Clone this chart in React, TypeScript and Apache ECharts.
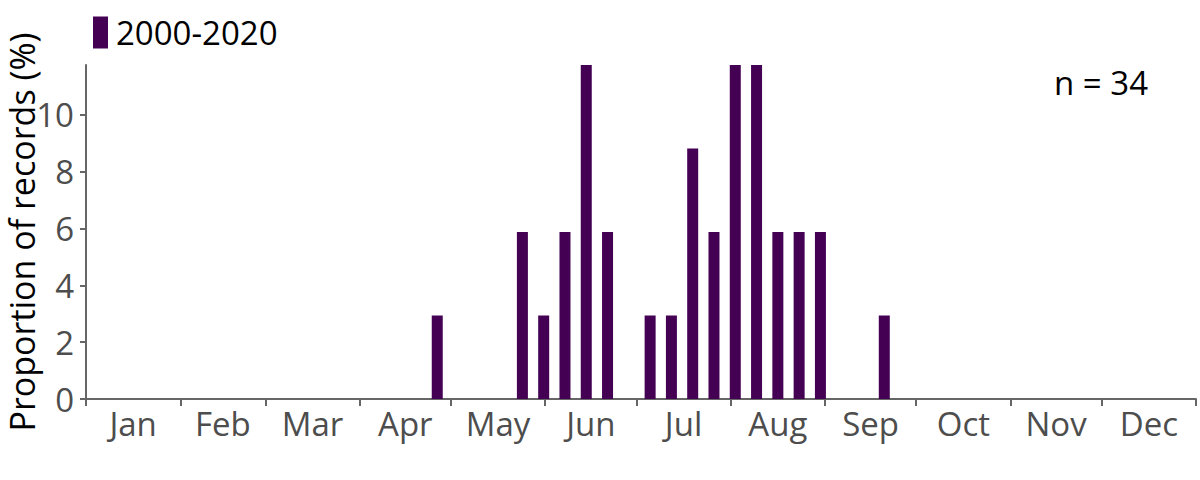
import React, { useEffect, useRef } from "react";
import * as echarts from "echarts";

// Month names and the day-of-year on which each month starts (plus year end)
const monthNames = ["Jan", "Feb", "Mar", "Apr", "May", "Jun", "Jul", "Aug", "Sep", "Oct", "Nov", "Dec"];
const monthStartDays = [0, 31, 59, 90, 120, 151, 181, 212, 243, 273, 304, 334, 365];

// Weekly bins (week index from 1 Jan) that hold records, and the proportion of records (%)
const weekIndex = [16, 20, 21, 22, 23, 24, 26, 27, 28, 29, 30, 31, 32, 33, 34, 37];
const proportion = [2.94, 5.88, 2.94, 5.88, 11.76, 5.88, 2.94, 2.94, 8.82, 5.88, 11.76, 11.76, 5.88, 5.88, 5.88, 2.94];

const yTicks = [0, 2, 4, 6, 8, 10];
const yMax = 11.76;
const seriesName = "2000-2020";
const sampleLabel = "n = 34";

const FONT = "'Open Sans', sans-serif";

export default function App() {
  const ref = useRef<HTMLDivElement>(null);

  useEffect(() => {
    if (!ref.current) return;
    const chart = echarts.init(ref.current, undefined, { renderer: "svg" });

    const monthMids = monthNames.map((_, i) => (monthStartDays[i] + monthStartDays[i + 1]) / 2);
    const barData = weekIndex.map((w, i) => [w * 7 + 3.5, proportion[i]]);

    chart.setOption({
      animation: false,
      grid: { left: 86, right: 4, top: 65, bottom: 81, containLabel: false, outerBoundsMode: "none" },
      legend: {
        data: [seriesName],
        left: 88,
        top: 11,
        icon: "rect",
        itemWidth: 15,
        itemHeight: 32,
        textStyle: { fontFamily: FONT, fontSize: 33, color: "#000", padding: [0, 0, 0, 3] },
      },
      graphic: [
        {
          type: "text",
          right: 52,
          top: 66,
          style: { text: sampleLabel, font: `33px ${FONT}`, fill: "#000" },
        },
      ],
      xAxis: {
        type: "value",
        min: 0,
        max: 365,
        splitLine: { show: false },
        axisLine: { show: true, onZero: false, lineStyle: { color: "#666", width: 2 } },
        axisTick: {
          show: true,
          customValues: monthStartDays,
          length: 7,
          lineStyle: { color: "#666", width: 2 },
        },
        axisLabel: {
          show: true,
          customValues: monthMids,
          margin: 8,
          fontFamily: FONT,
          fontSize: 33,
          color: "#4d4d4d",
          formatter: (v: number) => {
            let best = 0;
            for (let i = 0; i < monthMids.length; i++) {
              if (Math.abs(monthMids[i] - v) < Math.abs(monthMids[best] - v)) best = i;
            }
            return monthNames[best];
          },
        },
      },
      yAxis: {
        type: "value",
        min: 0,
        max: yMax,
        name: "Proportion of records (%)",
        nameLocation: "middle",
        nameGap: 47,
        nameMoveOverlap: false,
        nameTextStyle: { fontFamily: FONT, fontSize: 34, color: "#000" },
        splitLine: { show: false },
        axisLine: { show: true, lineStyle: { color: "#666", width: 2 } },
        axisTick: { show: true, customValues: yTicks, length: 6, lineStyle: { color: "#666", width: 2 } },
        axisLabel: {
          customValues: yTicks,
          margin: 12,
          fontFamily: FONT,
          fontSize: 33,
          color: "#4d4d4d",
        },
      },
      series: [
        {
          name: seriesName,
          type: "bar",
          data: barData,
          barWidth: 11,
          itemStyle: { color: "#440154" },
        },
      ],
    });

    return () => chart.dispose();
  }, []);

  return <div ref={ref} style={{ width: 1200, height: 480, position: "absolute", left: 0, top: 0 }} />;
}
